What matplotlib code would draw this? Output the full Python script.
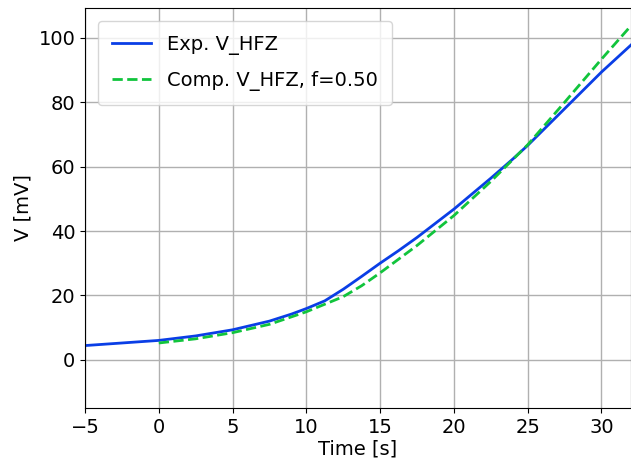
import matplotlib
matplotlib.use("Agg")
import matplotlib.pyplot as plt

# Experimental V_HFZ
t_exp = [-5, -2.5, 0, 2.5, 5, 7.5, 9, 10, 11.25, 12.5, 13.75, 15, 16.25, 17.5, 20, 22.5, 24, 25, 27.5, 30, 32]
v_exp = [4.4, 5.2, 6.0, 7.4, 9.3, 12.0, 14.2, 15.9, 18.3, 21.9, 25.9, 30.0, 33.9, 38.0, 46.8, 56.4, 62.4, 66.6, 78.0, 89.4, 97.8]

# Computed V_HFZ, f=0.50
t_comp = [0, 2.5, 5, 7.5, 10, 12.5, 13.75, 15, 17.5, 20, 22.5, 25, 27.5, 30, 32]
v_comp = [5.2, 6.5, 8.4, 11.0, 14.9, 19.6, 23.0, 27.0, 35.5, 44.8, 55.4, 66.8, 80.0, 93.4, 103.8]

plt.rcParams['font.family'] = ['DejaVu Sans']
plt.rcParams['font.size'] = 14

fig = plt.figure(figsize=(6.31, 4.63), dpi=100)
ax = fig.add_axes([0.1347, 0.1188, 0.8653, 0.8639])

ax.plot(t_exp, v_exp, color='#0a3ee6', lw=2, label='Exp. V_HFZ')
ax.plot(t_comp, v_comp, color='#11c43c', lw=2, ls='--', label='Comp. V_HFZ, f=0.50')

ax.set_xlim(-5, 32)
ax.set_ylim(-15, 109.3)
ax.set_xticks([-5, 0, 5, 10, 15, 20, 25, 30])
ax.set_yticks([0, 20, 40, 60, 80, 100])
ax.grid(True, color='#b0b0b0', lw=1)
ax.set_xlabel('Time [s]', labelpad=2)
ax.set_ylabel('V [mV]')
ax.legend(loc='upper left', labelspacing=0.8, borderpad=0.75, borderaxespad=0.65)

fig.savefig('out.png', dpi=100)
